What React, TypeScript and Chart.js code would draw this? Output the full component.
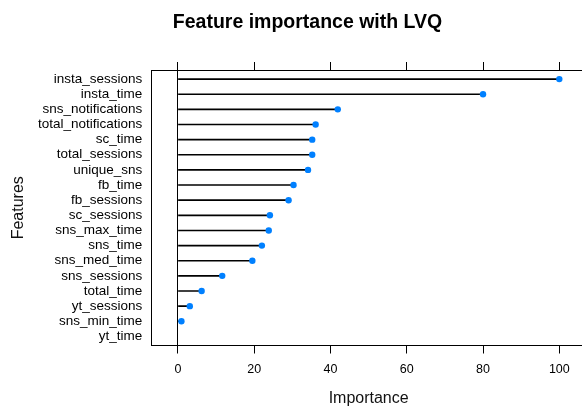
import React, { useEffect, useRef } from "react";
import { Chart, registerables } from "chart.js";

Chart.register(...registerables);

const features: string[] = [
  "insta_sessions",
  "insta_time",
  "sns_notifications",
  "total_notifications",
  "sc_time",
  "total_sessions",
  "unique_sns",
  "fb_time",
  "fb_sessions",
  "sc_sessions",
  "sns_max_time",
  "sns_time",
  "sns_med_time",
  "sns_sessions",
  "total_time",
  "yt_sessions",
  "sns_min_time",
  "yt_time",
];

const importance: (number | null)[] = [
  100, 80, 41.9, 36.1, 35.2, 35.2, 34.1, 30.3, 29.0, 24.1, 23.8, 22.0, 19.5, 11.6, 6.2, 3.1, 0.9, null,
];

const xTicks: number[] = [0, 20, 40, 60, 80, 100];

const titleText = "Feature importance with LVQ";
const xLabel = "Importance";
const yLabel = "Features";

const FONT = "'Liberation Sans', Arial, sans-serif";

export default function App() {
  const ref = useRef<HTMLCanvasElement | null>(null);

  useEffect(() => {
    const canvas = ref.current;
    if (!canvas) return;

    const pts = features
      .map((f, i) => ({ x: importance[i], y: i + 1 }))
      .filter((p) => p.x !== null) as { x: number; y: number }[];

    const textPlugin = {
      id: "texts",
      afterDraw(chart: any) {
        const { ctx, chartArea } = chart;
        ctx.save();
        ctx.fillStyle = "#000";
        ctx.textAlign = "center";
        ctx.textBaseline = "middle";
        ctx.font = `bold 19.5px ${FONT}`;
        ctx.fillText(titleText, 307.5, 23);
        ctx.font = `16px ${FONT}`;
        ctx.fillStyle = "#111";
        ctx.fillText(xLabel, (chartArea.left + chartArea.right) / 2, 399);
        ctx.translate(19, (chartArea.top + chartArea.bottom) / 2);
        ctx.rotate(-Math.PI / 2);
        ctx.fillText(yLabel, 0, 0);
        ctx.restore();
      },
    };

    const chart = new Chart(canvas, {
      type: "scatter",
      data: {
        datasets: [
          {
            type: "scatter",
            data: pts,
            backgroundColor: "#0080FF",
            borderWidth: 0,
            pointRadius: 3.2,
            pointHoverRadius: 3.2,
            order: 0,
            xAxisID: "x",
            yAxisID: "y",
          } as any,
          {
            type: "bar",
            indexAxis: "y",
            data: pts,
            backgroundColor: "#000",
            borderWidth: 0,
            barThickness: 1,
            order: 1,
            xAxisID: "x",
            yAxisID: "y",
          } as any,
        ],
      },
      options: {
        responsive: false,
        animation: false,
        devicePixelRatio: 1,
        layout: { padding: { top: 62, bottom: 0, left: 0, right: 14 } },
        plugins: {
          legend: { display: false },
          tooltip: { enabled: false },
          title: { display: false },
        },
        scales: {
          x: {
            type: "linear",
            position: "bottom",
            min: -7,
            max: 107,
            offset: false,
            afterBuildTicks: (s: any) => {
              s.ticks = xTicks.map((v) => ({ value: v }));
            },
            afterFit: (s: any) => {
              s.height = 61.5;
            },
            grid: {
              display: true,
              drawOnChartArea: true,
              drawTicks: true,
              tickLength: 8,
              tickColor: "#000",
              lineWidth: 1,
              color: (c: any) => (c.tick && c.tick.value === 0 ? "#000" : "rgba(0,0,0,0)"),
            },
            border: { display: true, color: "#000", width: 1 },
            ticks: {
              color: "#000",
              font: { family: FONT, size: 12.5 },
              padding: 9,
              maxRotation: 0,
              autoSkip: false,
              callback: (v: any) => String(v),
            },
          },
          x2: {
            type: "linear",
            position: "top",
            min: -7,
            max: 107,
            offset: false,
            afterBuildTicks: (s: any) => {
              s.ticks = xTicks.map((v) => ({ value: v }));
            },
            afterFit: (s: any) => {
              s.height = 8;
            },
            grid: {
              display: true,
              drawOnChartArea: false,
              drawTicks: true,
              tickLength: 8,
              tickColor: "#000",
              color: "#000",
            },
            border: { display: true, color: "#000", width: 1 },
            ticks: {
              color: "rgba(0,0,0,0)",
              font: { family: FONT, size: 12 },
              padding: 0,
              maxRotation: 0,
              autoSkip: false,
            },
          },
          y: {
            type: "linear",
            position: "left",
            min: 0.4,
            max: 18.6,
            reverse: true,
            offset: false,
            afterBuildTicks: (s: any) => {
              s.ticks = features.map((_, i) => ({ value: i + 1 }));
            },
            afterFit: (s: any) => {
              s.width = 151.3;
            },
            grid: { display: false, drawTicks: false },
            border: { display: true, color: "#000", width: 1 },
            ticks: {
              color: "#000",
              font: { family: FONT, size: 13.5 },
              padding: 9,
              autoSkip: false,
              callback: (v: any) => features[Math.round(v) - 1] ?? "",
            },
          },
        },
      } as any,
      plugins: [textPlugin],
    });

    return () => chart.destroy();
  }, []);

  return (
    <div
      style={{
        position: "fixed",
        left: 0,
        top: 0,
        width: 582,
        height: 407,
        overflow: "hidden",
        background: "#fff",
      }}
    >
      <canvas ref={ref} width={600} height={407} style={{ width: 600, height: 407, display: "block" }} />
    </div>
  );
}
